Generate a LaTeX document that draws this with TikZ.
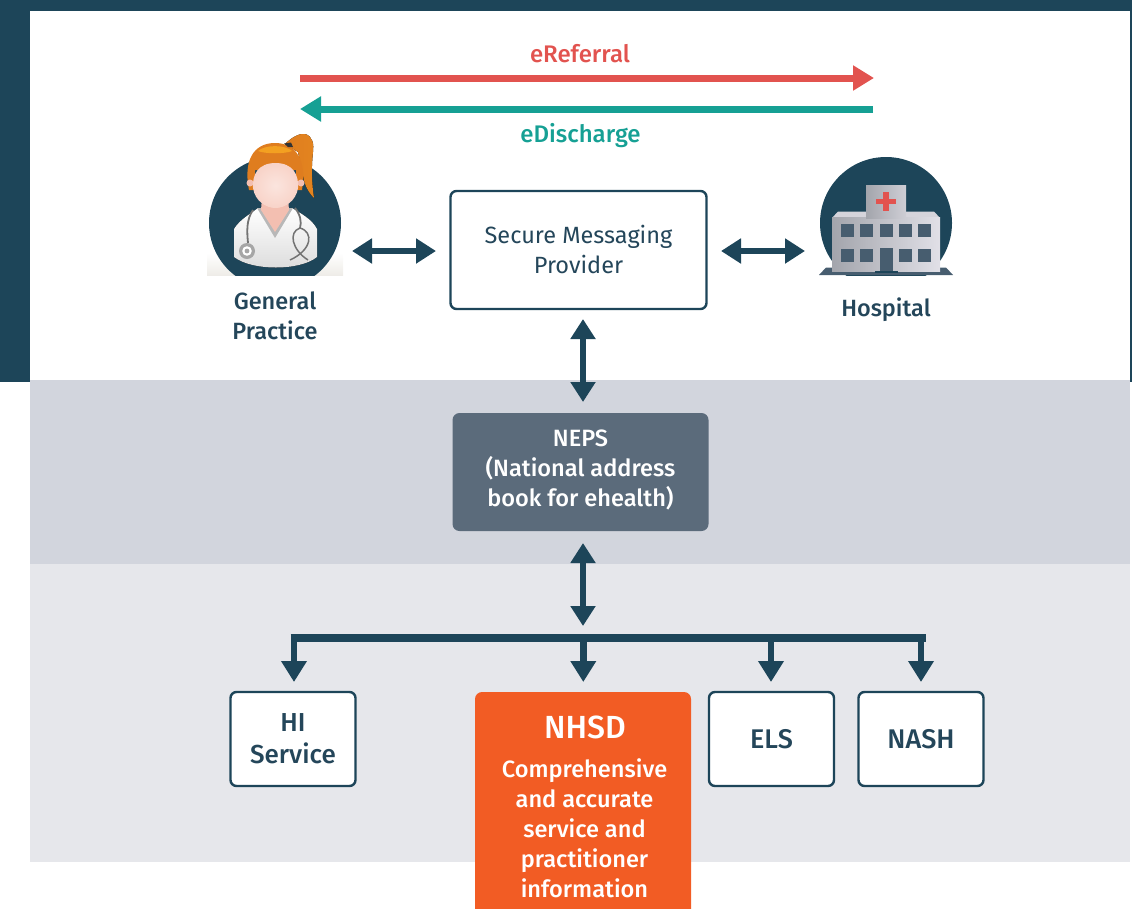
\documentclass[tikz,border=0pt]{standalone}
\usepackage{fontspec}
\setmainfont{Fira Sans}
\newfontfamily\medf{Fira Sans Medium}
\usetikzlibrary{arrows.meta,calc}
\definecolor{navy}{HTML}{1D4559}
\definecolor{inkc}{HTML}{24465A}
\definecolor{bandA}{HTML}{D2D5DD}
\definecolor{bandB}{HTML}{E6E7EB}
\definecolor{slatec}{HTML}{5B6B7B}
\definecolor{orangec}{HTML}{F25C24}
\definecolor{redc}{HTML}{E2534F}
\definecolor{tealc}{HTML}{16A094}
\definecolor{winc}{HTML}{475D6F}
\definecolor{hairc}{HTML}{DF7D1F}
\definecolor{hairl}{HTML}{F3A021}
\definecolor{skinc}{HTML}{F8D3C8}
\definecolor{skind}{HTML}{F3BFB1}
\definecolor{hosdark}{HTML}{A3A5AC}
\definecolor{hoslight}{HTML}{E1E0E7}
\definecolor{shadowc}{HTML}{EEECE7}
\tikzset{
 x=1pt,y=-1pt,
 whitebox/.style={draw=navy,line width=2.4pt,fill=white,rounded corners=6pt,align=center,text=inkc,inner sep=0pt},
 lab/.style={text=inkc,align=center,inner sep=0pt},
 dbl/.style={draw=navy,line width=6.7pt,{Triangle[width=24pt,length=20pt]}-{Triangle[width=24pt,length=20pt]}},
 sgl/.style={draw=navy,line width=6.7pt,-{Triangle[width=24.5pt,length=21pt]}},
 bus/.style={draw=navy,line width=7.7pt},
}
\begin{document}
\begin{tikzpicture}
\useasboundingbox (0,0) rectangle (1132,908);
% frame and bands
\fill[navy] (0,0) rectangle (1132,11);
\fill[navy] (0,0) rectangle (30,382);
\fill[navy] (1130,0) rectangle (1132,382);
\fill[bandA] (30,380) rectangle (1130,564);
\fill[bandB] (30,564) rectangle (1130,862);
% eReferral / eDischarge
\coordinate (rs) at (300,78); \coordinate (re) at (874,78);
\coordinate (ts) at (873,109); \coordinate (te) at (300,109);
\draw[redc,line width=7pt,-{Triangle[width=24pt,length=21pt]}] (rs) -- (re);
\draw[tealc,line width=7pt,-{Triangle[width=24pt,length=21pt]}] (ts) -- (te);
\node[text=redc,inner sep=0pt,font=\medf\fontsize{24}{26}\selectfont] (erefl) at (580,53.5) {eReferral};
\node[text=tealc,inner sep=0pt,font=\medf\fontsize{24}{26}\selectfont] (edisl) at (580.5,135.5) {eDischarge};
% doctor icon
\shade[top color=white,bottom color=shadowc] (207,253) rectangle (343,275.5);
\begin{scope}
\clip (190,120) rectangle (360,275.5);
\fill[navy] (275,223) circle (66);
\end{scope}
% body
\fill[top color=white,bottom color=black!14] (234,229) .. controls (240,219) and (252,213) .. (258,208) -- (292,208) .. controls (300,213) and (312,219) .. (317,229) -- (317,257) .. controls (300,271) and (252,271) .. (234,257) -- cycle;
\fill[black!28] (257,208) -- (275,238) -- (293,208) -- (288,208) -- (275,230) -- (262,208) -- cycle;
\fill[skind] (262,198) -- (288,198) -- (289,210) -- (275,232) -- (261,210) -- cycle;
% ponytail
\fill[left color=hairc,right color=hairc!80!hairl] (285,144) .. controls (292,137) and (300,133) .. (305,134) .. controls (313,136) and (314,145) .. (313,152) .. controls (311,170) and (312,185) .. (314,198) .. controls (308,192) and (304,184) .. (303,175) -- (298,152) -- cycle;
% hair
\fill[hairc] (249,190) .. controls (243,160) and (254,143) .. (275,143) .. controls (296,143) and (307,160) .. (302,190) -- (296,190) -- (296,170) -- (255,170) -- (255,190) -- cycle;
\fill[hairl] (258,151) .. controls (265,144.5) and (285,144.5) .. (292,151) .. controls (285,154) and (265,154) .. (258,151) -- cycle;
\fill[black!80] (284,143.5) -- (291,142.5) -- (293,147) -- (288,147) -- cycle;
% ears and face
\fill[skind] (250,183) circle (3.5); \fill[skind] (301,183) circle (3.5);
\shade[inner color=skinc!60!white,outer color=skinc] (275.5,163) .. controls (258,163) and (252,175) .. (253,188) .. controls (255,201) and (266,208) .. (275.5,208) .. controls (285,208) and (296,201) .. (298,188) .. controls (299,175) and (293,163) .. (275.5,163) -- cycle;
% stethoscope
\draw[black!55,line width=1.8pt] (253,210) .. controls (246,220) and (247,232) .. (248,243);
\draw[black!55,line width=1.8pt] (295,208) .. controls (300,214) and (302,222) .. (300,228);
\fill[black!35] (247,251) circle (8); \fill[white] (247,251) circle (4.8); \fill[black!35] (247,251) circle (2.4);
\draw[black!55,line width=1.5pt] (300,228) .. controls (288,232) and (292,250) .. (308,260);
\draw[black!55,line width=1.5pt] (300,228) .. controls (314,232) and (312,250) .. (290,260);
% hospital icon
\begin{scope}
\clip (800,140) rectangle (970,275);
\fill[navy] (886,223) circle (66);
\end{scope}
\fill[winc] (826,267.5) -- (946,267.5) -- (953,275) -- (819,275) -- cycle;
\fill[hoslight!80!hosdark] (832,218) -- (838,211.5) -- (934,211.5) -- (940,218) -- cycle;
\shade[left color=hosdark,right color=hoslight] (832,217.5) rectangle (940,271.5);
\shade[left color=hosdark,right color=hoslight!70!hosdark] (866,185) rectangle (906,218);
\fill[redc] (883.3,191.7) rectangle (888.7,211);
\fill[redc] (876,199) rectangle (896,204.4);
\foreach \wx in {841,860,880,899,918}{\fill[winc] (\wx,224) rectangle +(13,13);}
\foreach \wx in {841,860,899,918}{\fill[winc] (\wx,249) rectangle +(13,13);}
\fill[winc] (880,248) rectangle (893,272);
\fill[navy] (875,271) rectangle (898,273);
% labels
\node[lab,font=\medf\fontsize{23.5}{30}\selectfont] (gp) at (275,316) {General\\Practice};
\node[lab,font=\medf\fontsize{23.5}{30}\selectfont] (hosp) at (886,310) {Hospital};
% boxes
\node[whitebox,minimum width=256pt,minimum height=118pt,font=\fontsize{23.5}{30}\selectfont] (smp) at (578.5,250) {\raisebox{1pt}{Secure Messaging}\\\raisebox{1pt}{Provider}};
\node[fill=slatec,rounded corners=7pt,minimum width=256pt,minimum height=118pt,inner sep=0pt] (neps) at (580.5,472) {};
\node[inner sep=0pt,align=center,text=white,font=\medf\fontsize{23.6}{30}\selectfont] (nepst) at (580.5,470) {NEPS\\(National address\\book for ehealth)};
\node[whitebox,minimum width=125pt,minimum height=94pt,font=\medf\fontsize{26}{32}\selectfont] (hi) at (293,739) {HI\\Service};
\node[whitebox,minimum width=125pt,minimum height=94pt,font=\medf\fontsize{27}{32}\selectfont] (els) at (771.5,739) {ELS};
\node[whitebox,minimum width=125pt,minimum height=94pt,font=\medf\fontsize{27}{32}\selectfont] (nash) at (921,739) {NASH};
\begin{scope}
\clip (0,0) rectangle (1132,908);
\fill[orangec,rounded corners=7pt] (475,692) rectangle (691,930);
\end{scope}
\node[text=white,inner sep=0pt,font=\medf\fontsize{32}{36}\selectfont] (nhsdt) at (585,727) {NHSD};
\node[text=white,inner sep=0pt,align=center,font=\medf\fontsize{23.6}{30}\selectfont] (nhsdb) at (584.5,828) {Comprehensive\\and accurate\\service and\\practitioner\\information};
% connectors
\coordinate (ga) at (352,251); \coordinate (gb) at (436,251);
\coordinate (ha) at (721,251); \coordinate (hb) at (805,251);
\draw[dbl] (ga) -- (gb);
\draw[dbl] (ha) -- (hb);
\coordinate (va) at (583,319); \coordinate (vb) at (583,402);
\coordinate (vc) at (583,543); \coordinate (vd) at (583,626);
\draw[dbl] (va) -- (vb);
\draw[dbl] (vc) -- (vd);
\coordinate (bl) at (290.7,637.8); \coordinate (br) at (926,637.8);
\draw[bus] (bl) -- (br);
\coordinate (d1) at (294,682); \coordinate (d2) at (583.3,682); \coordinate (d3) at (771,682); \coordinate (d4) at (921,682);
\coordinate (u1) at (294,637); \coordinate (u2) at (583.3,637); \coordinate (u3) at (771,637); \coordinate (u4) at (921,637);
\draw[sgl] (u1) -- (d1);
\draw[sgl] (u2) -- (d2);
\draw[sgl] (u3) -- (d3);
\draw[sgl] (u4) -- (d4);
\end{tikzpicture}
\end{document}
